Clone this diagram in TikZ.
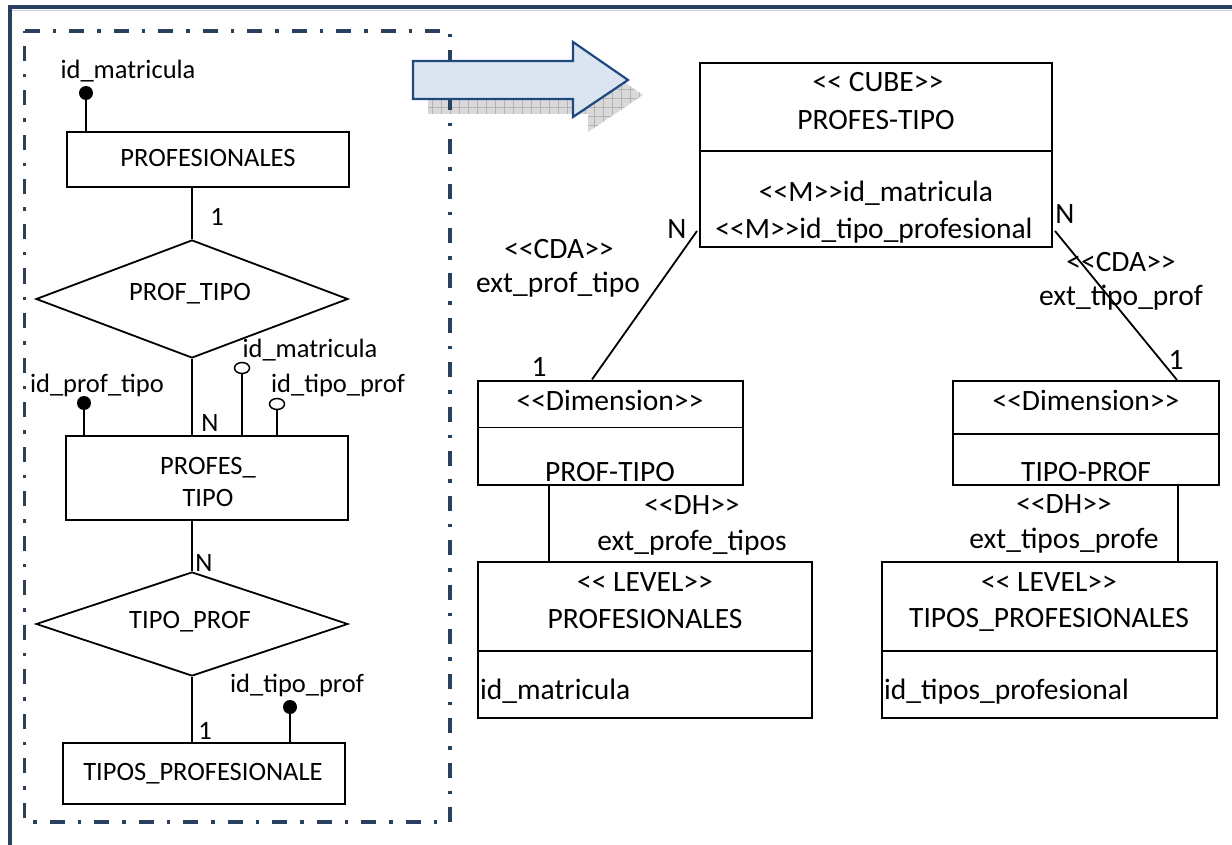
\documentclass[tikz,border=0pt]{standalone}
\usepackage{fontspec}
\newfontfamily\diagfont{Carlito}
\usetikzlibrary{shapes.geometric,patterns.meta,calc}

\definecolor{frameblue}{HTML}{27415F}
\definecolor{framelight}{HTML}{C9D6E8}
\definecolor{arrowfill}{HTML}{DBE5F1}
\definecolor{arrowline}{HTML}{1F497D}

\begin{document}
\begin{tikzpicture}[x=1pt,y=-1pt,
  every node/.style={font=\diagfont\fontsize{26.5}{32}\selectfont},
  lbl/.style={inner sep=0pt, text height=18pt, text depth=0pt},
  rlbl/.style={inner sep=0pt, text height=19pt, text depth=0pt, font=\diagfont\fontsize{29.5}{35}\selectfont},
  erbox/.style={draw=black, line width=2pt, rectangle, inner sep=0pt},
  umlbox/.style={draw=black, line width=2pt, rectangle, inner sep=0pt},
  rel/.style={draw=black, line width=1.8pt, diamond, inner sep=0pt},
  keydot/.style={circle, fill=black, inner sep=0pt, minimum size=14pt},
  attr/.style={ellipse, draw=black, fill=white, line width=1.5pt, inner sep=0pt, minimum width=15pt, minimum height=11pt},
  conn/.style={draw=black, line width=1.8pt},
  divider/.style={draw=black, line width=1.8pt}
]
\useasboundingbox (0,0) rectangle (1232,845);

% page frame
\draw[framelight, line width=1pt] (1232,10.5) -- (12,10.5);
\draw[frameblue, line width=4pt] (1232,7.5) -- (9.5,7.5) -- (9.5,845);

% shadow of the block arrow
\fill[gray!30, postaction={pattern={Lines[angle=0,distance=9pt,line width=0.8pt]}, pattern color=gray!60},
      postaction={pattern={Lines[angle=90,distance=9pt,line width=0.8pt]}, pattern color=gray!60}]
  (428,76) -- (588,76) -- (588,57) -- (643,95) -- (588,132) -- (588,114) -- (428,114) -- cycle;

% dash-dotted frame round the ER model
\draw[frameblue, line width=3.5pt, dash pattern=on 15pt off 13pt on 3.5pt off 13pt]
  (24.5,31) -- (450,31) -- (450,822) -- (24.5,822) -- cycle;

% block arrow
\draw[arrowline, fill=arrowfill, line width=2.2pt, line join=miter]
  (413,61) -- (573,61) -- (573,42) -- (628,80) -- (573,117) -- (573,99) -- (413,99) -- cycle;

% ---------------- ER model ----------------
\node[erbox, minimum width=282pt, minimum height=55pt] (eprof) at (208,159.5) {};
\node[rel, minimum width=312pt, minimum height=118pt] (rpt) at (192,299) {};
\node[erbox, minimum width=282pt, minimum height=84pt] (epft) at (207,478) {};
\node[rel, minimum width=312pt, minimum height=104pt] (rtp) at (192,624) {};
\node[erbox, minimum width=282pt, minimum height=61pt] (etipos) at (204,773.5) {};

\draw[conn] (rpt.north) -- (rpt.north |- eprof.south);
\draw[conn] (rpt.south) -- (rpt.south |- epft.north);
\draw[conn] (rtp.north) -- (rtp.north |- epft.south);
\draw[conn] (rtp.south) -- (rtp.south |- etipos.north);

\node[keydot] (k1) at (86,93) {};
\node[keydot] (k2) at (84,403) {};
\node[attr] (a1) at (242,368) {};
\node[attr] (a2) at (277,404) {};
\node[keydot] (k3) at (290,707) {};
\draw[conn] (k1) -- (k1 |- eprof.north);
\draw[conn] (k2) -- (k2 |- epft.north);
\draw[conn] (a1) -- (a1 |- epft.north);
\draw[conn] (a2) -- (a2 |- epft.north);
\draw[conn] (k3) -- (k3 |- etipos.north);

\node[lbl] (t01) at (128,70) {id\_matricula};
\node[lbl] (t02) at (208,158) {PROFESIONALES};
\node[lbl] (t03) at (217,217) {1};
\node[lbl] (t04) at (190,292) {PROF\_TIPO};
\node[lbl] (t05) at (310,348) {id\_matricula};
\node[lbl] (t06) at (97,383) {id\_prof\_tipo};
\node[lbl] (t07) at (338,383) {id\_tipo\_prof};
\node[lbl] (t08) at (210,422) {N};
\node[lbl] (t09) at (208,465) {PROFES\_};
\node[lbl] (t10) at (208,497) {TIPO};
\node[lbl] (t11) at (204,562) {N};
\node[lbl] (t12) at (190,619) {TIPO\_PROF};
\node[lbl] (t13) at (297,683) {id\_tipo\_prof};
\node[lbl] (t14) at (205,730) {1};
\node[lbl] (t15) at (203,771) {TIPOS\_PROFESIONALE};

% ---------------- multidimensional model ----------------
\node[umlbox, minimum width=352pt, minimum height=184pt] (cube) at (876,155) {};
\node[umlbox, minimum width=265pt, minimum height=104pt] (dimL) at (610.5,432.5) {};
\node[umlbox, minimum width=266pt, minimum height=104pt] (dimR) at (1086,433) {};
\node[umlbox, minimum width=334pt, minimum height=156pt] (levL) at (645,640) {};
\node[umlbox, minimum width=335pt, minimum height=156pt] (levR) at (1049.5,640) {};

\draw[divider] ($(cube.north west)+(0,89)$) -- ($(cube.north east)+(0,89)$);
\draw[divider] ($(dimL.north west)+(0,48)$) -- ($(dimL.north east)+(0,48)$);
\draw[divider] ($(dimR.north west)+(0,54)$) -- ($(dimR.north east)+(0,54)$);
\draw[divider] ($(levL.north west)+(0,90)$) -- ($(levL.north east)+(0,90)$);
\draw[divider] ($(levR.north west)+(0,90)$) -- ($(levR.north east)+(0,90)$);

\coordinate (cl) at ($(cube.south west)+(-2,-17)$);
\coordinate (cr) at ($(cube.south east)+(2,-17)$);
\coordinate (dlt) at ($(dimL.north west)+(115,0)$);
\coordinate (drt) at ($(dimR.north west)+(225,0)$);
\coordinate (dlb) at ($(dimL.south west)+(72,0)$);
\coordinate (drb) at ($(dimR.south west)+(226,0)$);

\draw[conn] (cl) -- (dlt);
\draw[conn] (cr) -- (drt);
\draw[conn] (dlb) -- (dlb |- levL.north);
\draw[conn] (drb) -- (drb |- levR.north);

\node[rlbl] (u01) at (878,82) {<{}< CUBE>{}>};
\node[rlbl] (u02) at (876,120) {PROFES-TIPO};
\node[rlbl] (u03) at (876,192) {<{}<M>{}>id\_matricula};
\node[rlbl] (u04) at (874,229) {<{}<M>{}>id\_tipo\_profesional};
\node[rlbl] (u05) at (677,229) {N};
\node[rlbl] (u06) at (559,249) {<{}<CDA>{}>};
\node[rlbl] (u07) at (558,283) {ext\_prof\_tipo};
\node[rlbl] (u08) at (539,367) {1};
\node[rlbl] (u09) at (1065,214) {N};
\node[rlbl] (u10) at (1121,262) {<{}<CDA>{}>};
\node[rlbl] (u11) at (1121,296) {ext\_tipo\_prof};
\node[rlbl] (u12) at (1176,360) {1};
\node[rlbl] (u13) at (610,401) {<{}<Dimension>{}>};
\node[rlbl] (u14) at (610,472) {PROF-TIPO};
\node[rlbl] (u15) at (692,505) {<{}<DH>{}>};
\node[rlbl] (u16) at (692,541) {ext\_profe\_tipos};
\node[rlbl] (u17) at (1086,401) {<{}<Dimension>{}>};
\node[rlbl] (u18) at (1086,472) {TIPO-PROF};
\node[rlbl] (u19) at (1064,504) {<{}<DH>{}>};
\node[rlbl] (u20) at (1064,539) {ext\_tipos\_profe};
\node[rlbl] (u21) at (645,582) {<{}< LEVEL>{}>};
\node[rlbl] (u22) at (645,619) {PROFESIONALES};
\node[rlbl, anchor=west] (u23) at (480,690) {id\_matricula};
\node[rlbl] (u24) at (1049,582) {<{}< LEVEL>{}>};
\node[rlbl] (u25) at (1049,618) {TIPOS\_PROFESIONALES};
\node[rlbl, anchor=west] (u26) at (884,690) {id\_tipos\_profesional};
\end{tikzpicture}
\end{document}
